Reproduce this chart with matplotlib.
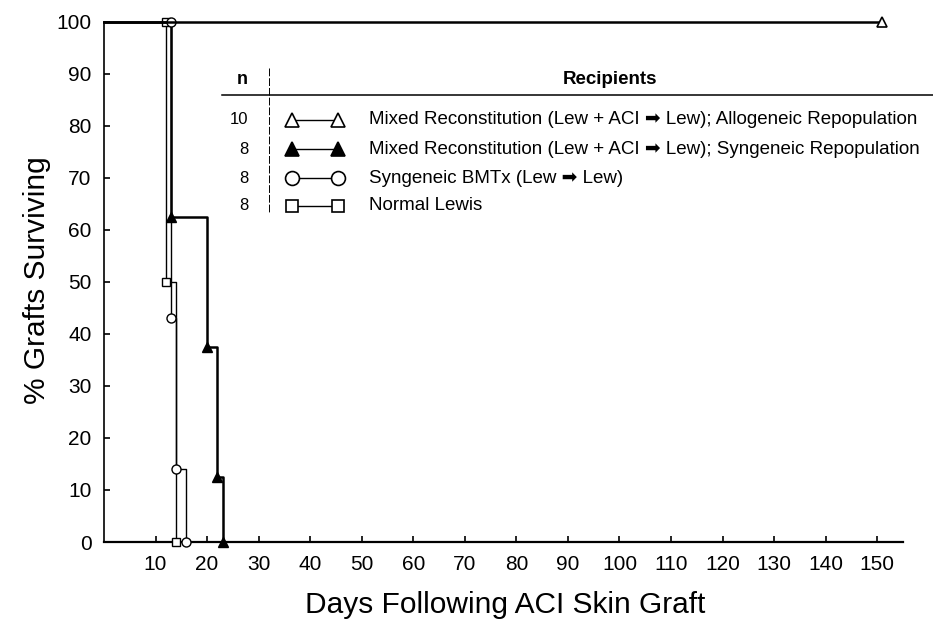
import matplotlib
matplotlib.use('Agg')
import matplotlib.pyplot as plt
from matplotlib.lines import Line2D

plt.rcParams['font.family'] = ['Liberation Sans', 'DejaVu Sans']

##data: days after graft, % grafts surviving
allo_days = [0, 151]
allo_surv = [100, 100]
syn_days = [0, 13, 20, 22, 23]
syn_surv = [100, 62.5, 37.5, 12.5, 0]
bmt_days = [0, 13, 13, 14, 16]
bmt_surv = [100, 100, 43, 14, 0]
lew_days = [0, 12, 12, 14]
lew_surv = [100, 100, 50, 0]

x_ticks = list(range(10, 151, 10))
y_ticks = list(range(0, 101, 10))

n_labels = ['10', '8', '8', '8']
recipients = ['Mixed Reconstitution (Lew + ACI \u27a1 Lew); Allogeneic Repopulation',
              'Mixed Reconstitution (Lew + ACI \u27a1 Lew); Syngeneic Repopulation',
              'Syngeneic BMTx (Lew \u27a1 Lew)',
              'Normal Lewis']

W, H = 933, 627
fig = plt.figure(figsize=(W/100, H/100), dpi=100)
ax = fig.add_axes([104/W, 1-542/H, 799/W, 520.5/H])

ax.plot(lew_days, lew_surv, color='k', lw=1.0, drawstyle='steps-post',
        marker='s', ms=6, mfc='white', mec='k', mew=1.0, markevery=[1, 2, 3], clip_on=False, zorder=3)
ax.plot(bmt_days, bmt_surv, color='k', lw=1.0, drawstyle='steps-post',
        marker='o', ms=6.5, mfc='white', mec='k', mew=1.0, markevery=[1, 2, 3, 4], clip_on=False, zorder=4)
ax.plot(syn_days, syn_surv, color='k', lw=1.8, drawstyle='steps-post',
        marker='^', ms=7, mfc='k', mec='k', markevery=[1, 2, 3, 4], clip_on=False, zorder=3)
ax.plot(allo_days, allo_surv, color='k', lw=1.8, drawstyle='steps-post',
        marker='^', ms=7, mfc='white', mec='k', mew=1.2, markevery=[1], clip_on=False, zorder=5)

ax.set_xlim(0, 155)
ax.set_ylim(0, 100)
ax.set_xticks(x_ticks)
ax.set_yticks(y_ticks)
ax.tick_params(direction='in', length=4, width=1.2, labelsize=15, pad=9)
ax.spines['top'].set_visible(False)
ax.spines['right'].set_visible(False)
ax.spines['bottom'].set_linewidth(1.6)
ax.spines['left'].set_linewidth(1.2)

fig.text(37/W, 1-280/H, '% Grafts Surviving', rotation=90, fontsize=21.5, ha='center', va='center')
fig.text(505/W, 1-605/H, 'Days Following ACI Skin Graft', fontsize=21.5, ha='center', va='center')

##legend drawn as a small table
def fx(x):
    return x/W
def fy(y):
    return 1-y/H

fig.text(fx(242), fy(80), 'n', fontsize=13, fontweight='bold', ha='center', va='center')
fig.text(fx(610), fy(80), 'Recipients', fontsize=13.5, fontweight='bold', ha='center', va='center')
fig.add_artist(Line2D([fx(222), fx(933)], [fy(94.5), fy(94.5)], color='k', lw=1.1))
fig.add_artist(Line2D([fx(269), fx(269)], [fy(68), fy(212)], color='k', lw=0.7, ls=(0, (8, 2))))

row_y = [120, 149, 178, 206]
styles = [('^', 'white'), ('^', 'k'), ('o', 'white'), ('s', 'white')]
for yy, nn, txt, (mk, fc) in zip(row_y, n_labels, recipients, styles):
    fig.text(fx(248), fy(yy), nn, fontsize=12, ha='right', va='center')
    fig.add_artist(Line2D([fx(292), fx(338)], [fy(yy), fy(yy)], color='k', lw=1.0,
                          marker=mk, ms=10 if mk != 's' else 9, mfc=fc, mec='k', mew=1.2))
    fig.text(fx(369), fy(yy), txt, fontsize=13.5, ha='left', va='center')

plt.savefig('out.png', dpi=100)
